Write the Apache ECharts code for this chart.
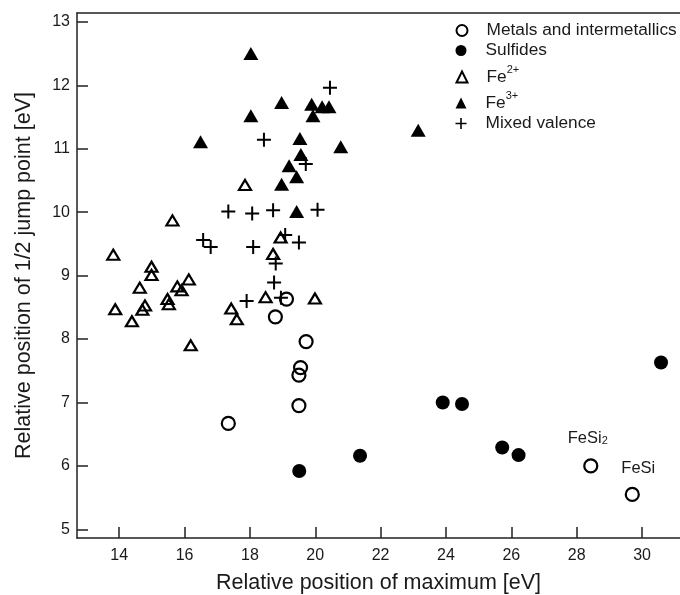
<!DOCTYPE html>
<html><head><meta charset="utf-8">
<script src="https://cdn.jsdelivr.net/npm/echarts@6/dist/echarts.min.js"></script>
<style>html,body{margin:0;padding:0;background:#fff}#c{width:680px;height:595px}</style>
</head><body><div id="c"></div>
<script>
// ---- data ----
const xTicks = [14, 16, 18, 20, 22, 24, 26, 28, 30];
const yTicks = [5, 6, 7, 8, 9, 10, 11, 12, 13];
const seriesNames = ['Metals and intermetallics', 'Sulfides', 'Fe2+', 'Fe3+', 'Mixed valence'];
const metals = [[19.12,8.63],[18.78,8.35],[19.72,7.96],[19.55,7.55],[19.50,7.43],[19.50,6.95],[17.34,6.67],[28.43,6.00],[29.70,5.55]];
const metalNames = ['', '', '', '', '', '', '', 'FeSi2', 'FeSi'];
const sulfides = [[19.51,5.92],[21.37,6.16],[23.90,7.00],[24.49,6.975],[25.72,6.29],[26.22,6.17],[30.58,7.63]];
const fe2 = [[13.82,9.33],[15.63,9.87],[17.85,10.43],[14.99,9.14],[14.99,9.01],[14.63,8.81],[15.78,8.83],[15.91,8.77],[16.13,8.94],[18.71,9.34],[18.94,9.60],[13.88,8.47],[14.79,8.53],[14.71,8.46],[14.39,8.28],[15.48,8.63],[15.52,8.55],[16.19,7.90],[17.43,8.48],[17.60,8.31],[18.48,8.66],[19.99,8.64]];
const fe3 = [[18.03,12.50],[18.03,11.52],[18.97,11.73],[16.49,11.11],[19.89,11.70],[19.93,11.52],[20.21,11.66],[20.42,11.66],[19.53,11.16],[20.78,11.03],[23.15,11.29],[19.56,10.91],[19.20,10.73],[19.43,10.56],[18.97,10.44],[19.43,10.01]];
const mixed = [[20.45,11.96],[18.43,11.14],[19.71,10.76],[17.34,10.01],[18.07,9.98],[18.71,10.03],[20.07,10.04],[16.57,9.56],[16.80,9.45],[18.10,9.45],[19.08,9.64],[19.50,9.52],[18.79,9.19],[18.74,8.89],[17.90,8.60],[18.95,8.65]];

// ---- styling ----
const FONT = "'Liberation Sans', Arial, sans-serif";
const INK = '#000';
const TXT = '#1a1a1a';
const AXIS = '#222';
const PLUS = 'path://M6,0 H8 V6 H14 V8 H8 V14 H6 V8 H0 V6 H6 Z';
const CLEAR = 'rgba(255,255,255,0)';

const labelStyles = {
  FeSi2: { formatter: 'FeSi{sub|2}', offset: [-3, -6] },
  FeSi: { formatter: 'FeSi', offset: [6, -4] }
};
const metalData = metals.map((p, i) => {
  const n = metalNames[i];
  if (!n) return p;
  const ls = labelStyles[n];
  return {
    value: p,
    label: {
      show: true, position: 'top', distance: 6, offset: ls.offset,
      formatter: ls.formatter, color: TXT, opacity: 1, fontFamily: FONT, fontSize: 16.5, lineHeight: 16,
      rich: { sub: { fontSize: 11, fontFamily: FONT, color: TXT, verticalAlign: 'bottom', lineHeight: 2 } }
    }
  };
});

const chart = echarts.init(document.getElementById('c'), null, { renderer: 'canvas' });

function legendAt(name, top, fmt) {
  const l = {
    show: true, orient: 'vertical', left: 455.5, top: top, padding: 0,
    itemWidth: 11, itemHeight: 11, data: [name], selectedMode: false,
    textStyle: { color: TXT, fontFamily: FONT, fontSize: 17.3, padding: [0, 0, 0, 14] }
  };
  if (fmt) {
    l.formatter = fmt;
    l.textStyle.lineHeight = 26;
    l.textStyle.rich = { sup: { fontSize: 11, fontFamily: FONT, color: TXT, verticalAlign: 'top', lineHeight: 7 } };
  }
  return l;
}

const option = {
  animation: false,
  backgroundColor: '#fff',
  grid: { left: 77, right: 0, top: 13, bottom: 57, containLabel: false, outerBoundsMode: 'none' },
  legend: [
    legendAt(seriesNames[0], 30.5 - 8.5),
    legendAt(seriesNames[1], 50.5 - 8.5),
    legendAt(seriesNames[2], 77 - 13, 'Fe{sup|2+}'),
    legendAt(seriesNames[3], 103 - 13, 'Fe{sup|3+}'),
    legendAt(seriesNames[4], 123.5 - 8.5)
  ],
  xAxis: [{
    type: 'value', min: 12.71, max: 31.16, position: 'bottom',
    name: 'Relative position of maximum [eV]', nameLocation: 'middle', nameGap: 34,
    nameTextStyle: { color: TXT, fontFamily: FONT, fontSize: 21.5 },
    axisLine: { show: true, onZero: false, lineStyle: { color: AXIS, width: 1.5 } },
    axisTick: { show: true, inside: true, length: 11, customValues: xTicks, lineStyle: { color: AXIS, width: 1.5 } },
    axisLabel: { show: true, customValues: xTicks, margin: 10, color: TXT, fontFamily: FONT, fontSize: 16 },
    splitLine: { show: false }
  }, {
    type: 'value', min: 12.71, max: 31.16, position: 'top',
    axisLine: { show: true, onZero: false, lineStyle: { color: AXIS, width: 1.5 } },
    axisTick: { show: false }, axisLabel: { show: false }, splitLine: { show: false }
  }],
  yAxis: {
    type: 'value', min: 4.863, max: 13.14,
    name: 'Relative position of 1/2 jump point [eV]', nameLocation: 'middle', nameGap: 42,
    nameTextStyle: { color: TXT, fontFamily: FONT, fontSize: 21.5 },
    axisLine: { show: true, onZero: false, lineStyle: { color: AXIS, width: 1.5 } },
    axisTick: { show: true, inside: true, length: 11, customValues: yTicks, lineStyle: { color: AXIS, width: 1.5 } },
    axisLabel: { show: true, customValues: yTicks, margin: 7, color: TXT, fontFamily: FONT, fontSize: 16 },
    splitLine: { show: false }
  },
  series: [
    {
      name: seriesNames[0], type: 'scatter', data: metalData, symbol: 'circle', symbolSize: 13,
      itemStyle: { color: CLEAR, borderColor: INK, borderWidth: 2.2, opacity: 1 }, emphasis: { disabled: true }, z: 3
    },
    {
      name: seriesNames[1], type: 'scatter', data: sulfides, symbol: 'circle', symbolSize: 14,
      itemStyle: { color: INK, borderWidth: 0, opacity: 1 }, emphasis: { disabled: true }, z: 3
    },
    {
      name: seriesNames[2], type: 'scatter', data: fe2, symbol: 'triangle', symbolSize: [12, 10],
      itemStyle: { color: CLEAR, borderColor: INK, borderWidth: 2.2, opacity: 1 }, emphasis: { disabled: true }, z: 3
    },
    {
      name: seriesNames[3], type: 'scatter', data: fe3, symbol: 'triangle', symbolSize: [15, 13],
      itemStyle: { color: INK, borderWidth: 0, opacity: 1 }, emphasis: { disabled: true }, z: 3
    },
    {
      name: seriesNames[4], type: 'scatter', data: mixed, symbol: PLUS, symbolSize: 14,
      itemStyle: { color: INK, borderWidth: 0, opacity: 1 }, emphasis: { disabled: true }, z: 3
    }
  ]
};
chart.setOption(option);
</script>
</body></html>
